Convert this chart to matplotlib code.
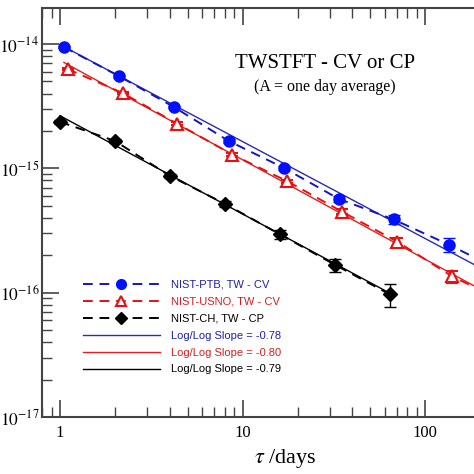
import numpy as np
import matplotlib.pyplot as plt
from matplotlib.lines import Line2D
from matplotlib.ticker import LogLocator, NullFormatter

# data
tau_ptb = [1.05, 2.1, 4.2, 8.4, 16.8, 33.6, 67.2, 134.4, 268.8]
adev_ptb = [9.46e-15, 5.53e-15, 3.12e-15, 1.66e-15, 1.01e-15, 5.69e-16, 3.88e-16, 2.44e-16, 1.47e-16]
err_ptb = [0.2e-15, 0.15e-15, 0.08e-15, 0.05e-15, 0.04e-15, 0.3e-16, 0.3e-16, 0.3e-16, 0.3e-16]

tau_usno = [1.1, 2.2, 4.4, 8.8, 17.6, 35.2, 70.4, 140.8, 281.6]
adev_usno = [6.3e-15, 4.04e-15, 2.28e-15, 1.29e-15, 7.87e-16, 4.47e-16, 2.57e-16, 1.35e-16, 8.3e-17]
err_usno = [0.15e-15, 0.1e-15, 0.06e-15, 0.04e-15, 0.25e-16, 0.2e-16, 0.2e-16, 0.15e-16, 0.1e-16]

tau_ch = [1, 2, 4, 8, 16, 32, 64]
adev_ch = [2.37e-15, 1.66e-15, 8.7e-16, 5.19e-16, 2.95e-16, 1.68e-16, 9.7e-17]
err_ch = [0.08e-15, 0.06e-15, 0.35e-16, 0.3e-16, 0.25e-16, 0.2e-16, 0.2e-16]

# log/log fits: amplitude at tau=1, slope, tau range
fit_ptb = (9.9e-15, -0.78, 1.0, 400)
fit_usno = (7.4e-15, -0.80, 1.05, 400)
fit_ch = (2.65e-15, -0.79, 1.0, 68)

plt.rcParams['mathtext.fontset'] = 'stix'
serif = 'Liberation Serif'
sans = 'Liberation Sans'

fig = plt.figure(figsize=(4.74, 4.74), dpi=100)
ax = fig.add_axes([42/474, 57/474, 486/474, 409/474])

blue = '#0010ff'
red = '#e81010'
blue_fit = '#2b2bb0'
red_fit = '#e02020'

def fitline(p, color):
    a, s, t0, t1 = p
    t = np.array([t0, t1])
    ax.plot(t, a * t**s, color=color, lw=1.0)

ptb_style = dict(color='#1515c0', ls='--', dashes=(5, 3.5), lw=1.4, marker='o', ms=8, mfc=blue, mec=blue)
usno_style = dict(color=red, ls='--', dashes=(5, 3.5), lw=1.4, marker='^', ms=8, mfc='white', mec=red, mew=1.5)
ch_style = dict(color='black', ls='--', dashes=(5, 3.5), lw=1.4, marker='D', ms=7, mfc='black', mec='black')

ax.errorbar(tau_ptb, adev_ptb, yerr=err_ptb, ecolor=blue, capsize=4, elinewidth=1, **ptb_style)
ax.errorbar(tau_usno, adev_usno, yerr=err_usno, ecolor=red, capsize=4, elinewidth=1, **usno_style)
ax.errorbar(tau_ch, adev_ch, yerr=err_ch, ecolor='black', capsize=4, elinewidth=1, **ch_style)
fitline(fit_ptb, blue_fit)
fitline(fit_usno, red_fit)
fitline(fit_ch, 'black')

ax.set_xscale('log')
ax.set_yscale('log')
ax.set_xlim(0.797, 366)
ax.set_ylim(1e-17, 1.95e-14)

ax.xaxis.set_minor_locator(LogLocator(base=10, subs=np.arange(2, 10), numticks=20))
ax.yaxis.set_minor_locator(LogLocator(base=10, subs=np.arange(2, 10), numticks=20))
ax.xaxis.set_minor_formatter(NullFormatter())
ax.yaxis.set_minor_formatter(NullFormatter())
ax.set_xticks([1, 10, 100])
ax.set_xticklabels(['1', '10', '100'], fontfamily=serif, fontsize=12)
ax.set_yticks([1e-17, 1e-16, 1e-15, 1e-14])
ax.set_yticklabels([r'$10^{-17}$', r'$10^{-16}$', r'$10^{-15}$', r'$10^{-14}$'], fontsize=12.5)
ax.tick_params(which='both', direction='in', top=True, right=True, color='#444444')
ax.tick_params(which='major', length=12, width=1.2)
ax.tick_params(axis='x', which='major', pad=6)
ax.tick_params(axis='y', which='major', pad=2)
ax.tick_params(which='minor', length=7, width=1.0)
for s in ax.spines.values():
    s.set_color('#444444')
    s.set_linewidth(1.5)

ax.set_xlabel(r'$\tau$ /days', fontfamily=serif, fontsize=16, labelpad=4)

fig.text(325/474, 1 - 63/474, 'TWSTFT - CV or CP', fontfamily=serif, fontsize=15,
         ha='center', va='center')
fig.text(325/474, 1 - 87/474, '(A = one day average)', fontfamily=serif, fontsize=11.5,
         ha='center', va='center')

leg_style = dict(ms=7)
handles = [
    Line2D([], [], **{**ptb_style, 'ms': 7}),
    Line2D([], [], **{**usno_style, 'ms': 7}),
    Line2D([], [], **{**ch_style, 'ms': 6}),
    Line2D([], [], color=blue_fit, lw=1.0),
    Line2D([], [], color=red_fit, lw=1.0),
    Line2D([], [], color='black', lw=1.0),
]
labels = ['NIST-PTB, TW - CV', 'NIST-USNO, TW - CV', 'NIST-CH, TW - CP',
          'Log/Log Slope = -0.78', 'Log/Log Slope = -0.80', 'Log/Log Slope = -0.79']
leg = ax.legend(handles, labels, loc='upper left', bbox_to_anchor=(31/486, 1 - (270 - 8)/409),
                frameon=False, fontsize=8, handlelength=6.9, handletextpad=1.0, labelspacing=0.62,
                numpoints=1, labelcolor=['#2020a0', '#d02020', 'black', '#2020a0', '#d02020', 'black'])
for t in leg.get_texts():
    t.set_fontfamily(sans)

fig.savefig('out.png', dpi=100)
